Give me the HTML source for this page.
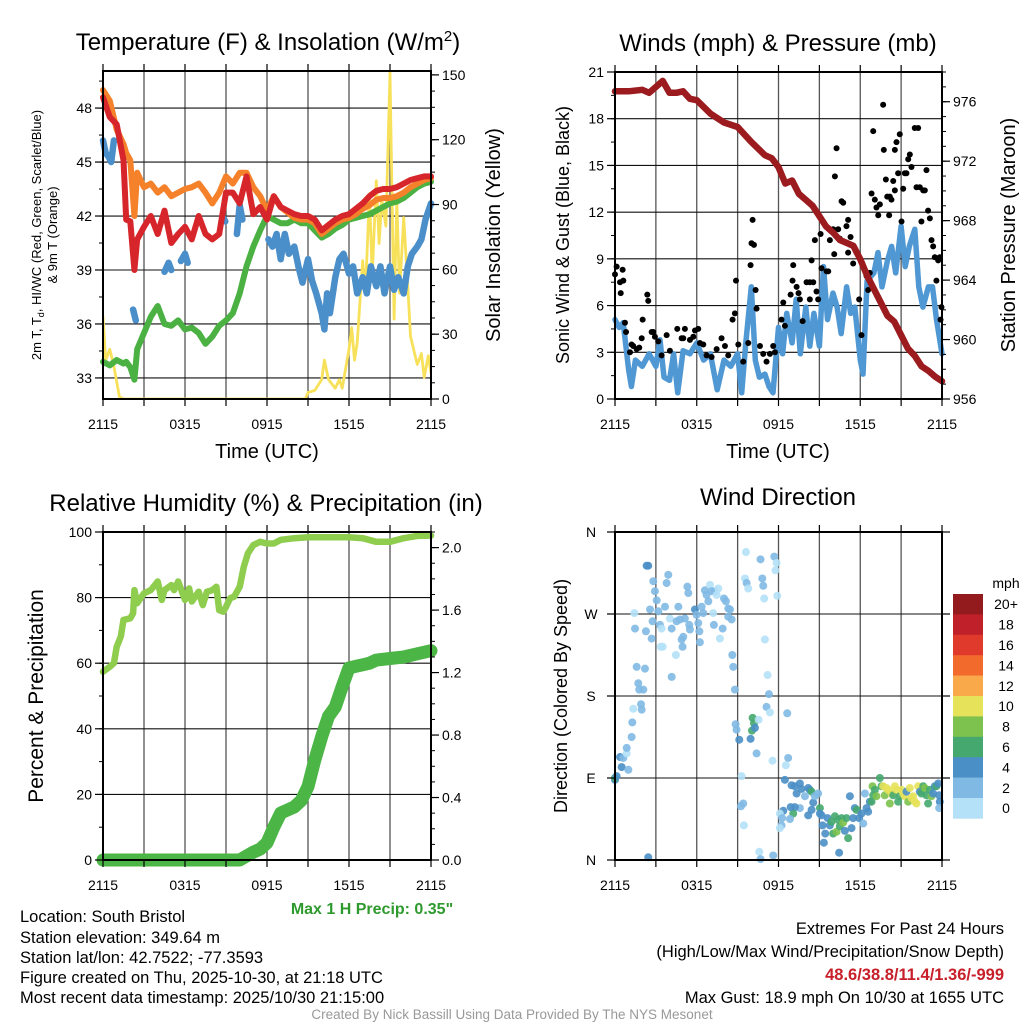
<!DOCTYPE html>
<html><head><meta charset="utf-8"><style>
html,body{margin:0;padding:0;background:#fff;}
svg{display:block;font-family:"Liberation Sans",Arial,sans-serif;}
</style></head><body>
<svg id="fig" width="1024" height="1024" viewBox="0 0 1024 1024" xmlns="http://www.w3.org/2000/svg">
<rect width="1024" height="1024" fill="#fff"/>
<g id="layer"></g>
<g font-size="24" text-anchor="middle" fill="#000">
<text x="268" y="50">Temperature (F) &amp; Insolation (W/m<tspan dy="-9" font-size="15">2</tspan><tspan dy="9">)</tspan></text>
<text x="778" y="51">Winds (mph) &amp; Pressure (mb)</text>
<text x="266" y="511">Relative Humidity (%) &amp; Precipitation (in)</text>
<text x="778" y="505">Wind Direction</text>
</g>
<g font-size="20" text-anchor="middle" fill="#000">
<text x="267" y="458">Time (UTC)</text>
<text x="778" y="458">Time (UTC)</text>
<text transform="translate(500,235) rotate(-90)">Solar Insolation (Yellow)</text>
<text transform="translate(1015,235) rotate(-90)">Station Pressure (Maroon)</text>
<text transform="translate(43,696) rotate(-90)" font-size="21">Percent &amp; Precipitation</text>
<text transform="translate(569,235) rotate(-90)" font-size="18">Sonic Wind &amp; Gust (Blue, Black)</text>
<text transform="translate(567,696) rotate(-90)" font-size="18">Direction (Colored By Speed)</text>
</g>
<g font-size="13" text-anchor="middle" fill="#000">
<text transform="translate(41,235) rotate(-90)">2m T, T<tspan font-size="9" dy="3">d</tspan><tspan dy="-3">, HI/WC (Red, Green, Scarlet/Blue)</tspan></text>
<text transform="translate(57,235) rotate(-90)">&amp; 9m T (Orange)</text>
</g>
<text x="372" y="914" font-size="16" font-weight="bold" fill="#2e9a2e" text-anchor="middle">Max 1 H Precip: 0.35"</text>
<g font-size="16.5" fill="#000">
<text x="20" y="922">Location: South Bristol</text>
<text x="20" y="943">Station elevation: 349.64 m</text>
<text x="20" y="963">Station lat/lon: 42.7522; -77.3593</text>
<text x="20" y="983">Figure created on Thu, 2025-10-30, at 21:18 UTC</text>
<text x="20" y="1003">Most recent data timestamp: 2025/10/30 21:15:00</text>
</g>
<g font-size="16.5" fill="#000" text-anchor="end">
<text x="1004" y="934">Extremes For Past 24 Hours</text>
<text x="1004" y="957">(High/Low/Max Wind/Precipitation/Snow Depth)</text>
<text x="1004" y="980" font-weight="bold" fill="#c8202a">48.6/38.8/11.4/1.36/-999</text>
<text x="1004" y="1003">Max Gust: 18.9 mph On 10/30 at 1655 UTC</text>
</g>
<text x="512" y="1019" font-size="13.5" fill="#999" text-anchor="middle">Created By Nick Bassill Using Data Provided By The NYS Mesonet</text>
</svg>
<script>
// ---------- DATA ----------
const xTickLabels = ["2115","0315","0915","1515","2115"];
const tempTicks = [33,36,39,42,45,48];
const solarTicks = [0,30,60,90,120,150];
const windTicks = [0,3,6,9,12,15,18,21];
const presTicks = [956,960,964,968,972,976];
const rhTicks = [0,20,40,60,80,100];
const pcpTicks = ["0.0","0.4","0.8","1.2","1.6","2.0"];
const dirLabels = ["N","E","S","W","N"];
const cbarLabels = ["20+","18","16","14","12","10","8","6","4","2","0"];
const cbarColors = ["#931a1d","#c0202a","#e03a2c","#f26a2c","#f9a84a","#e6e25a","#7dc24e","#45a86e","#4a8fc6","#7fb9e4","#b4e1f7"];

const tTemp = [0,0.5,1,1.5,1.7,2,2.3,2.5,3,3.5,4,4.5,5,5.5,6,6.5,7,7.5,8,8.5,9,9.5,10,10.5,11,11.5,12,12.5,13,13.5,14,14.5,15,15.5,16,16.5,17,17.5,18,18.5,19,19.5,20,20.5,21,21.5,22,22.5,23,23.5,24];
const temp2m = [48.6,47.5,47.1,45.1,41.8,41.7,39.0,40.7,41.4,42.0,41.0,42.3,40.5,41.0,41.4,40.7,42.0,41.0,40.7,41.0,43.3,43.3,42.7,44.2,42.1,42.5,41.8,43.1,42.5,42.3,42.1,42.0,42.0,41.8,41.2,41.5,41.8,42.0,42.1,42.4,42.7,43.1,43.4,43.5,43.5,43.6,43.8,44.0,44.1,44.2,44.2];
const temp9m = [49.0,48.4,46.8,46.0,45.5,45.1,42.0,44.4,43.6,43.8,43.3,43.6,43.1,43.3,43.5,43.6,43.8,43.3,42.7,43.3,44.2,43.8,44.4,44.4,43.6,43.1,42.3,43.1,42.5,42.2,41.9,41.8,41.8,41.6,41.0,41.3,41.6,41.8,41.9,42.1,42.4,42.6,42.9,43.0,43.0,43.1,43.3,43.6,43.8,44.0,44.1];
const dewpoint = [33.9,33.7,34.0,33.8,33.9,33.6,32.9,34.6,35.5,36.4,37.0,36.0,35.9,36.2,35.7,35.8,35.5,34.9,35.3,35.9,36.2,36.6,37.7,39.2,40.3,41.2,42.0,41.8,41.6,41.6,41.8,41.6,41.6,41.2,40.8,41.0,41.3,41.5,41.8,41.9,42.0,42.1,42.3,42.5,42.7,42.8,43.0,43.3,43.6,43.8,43.9];
const tChill = [0,0.2,0.4,0.6,0.8,0.9, 2.2,2.4,2.5, 4.5,4.8,5.0,5.1, 5.7,6.0,6.2,6.3, 8.8,8.95,9.0, 9.8,10.0,10.2,10.3, 12.1,12.4,12.7,13.0,13.3,13.6,14.0,14.3,14.6,15.0,15.3,15.6,16.0,16.2,16.4,16.6,17.0,17.3,17.6,18.0,18.3,18.6,19.0,19.3,19.6,20.0,20.3,20.6,21.0,21.3,21.6,22.0,22.3,22.6,23.0,23.3,23.6,24.0];
const windChill = [46.2,45.5,45.3,45.0,46.2,null, 36.8,36.2,null, 38.9,39.4,39.0,null, 39.5,39.9,39.4,null, 41.9,41.7,null, 41.0,42.6,41.8,null, 40.7,40.3,41.0,39.6,41.0,39.9,40.3,39.2,38.3,39.6,38.4,37.7,36.6,35.7,37.7,36.6,38.6,39.6,39.9,38.8,39.2,37.7,38.6,37.7,39.2,38.1,39.2,37.7,39.2,37.9,38.6,37.7,39.2,39.9,40.3,40.7,41.8,42.7];
const tSolar = [0,0.2,0.5,0.8,1.2,1.5,14.8,15,15.5,16,16.2,16.5,17,17.3,17.5,18,18.2,18.4,18.6,19,19.2,19.5,19.7,20,20.2,20.4,20.7,21,21.1,21.3,21.5,21.7,22,22.3,22.5,22.8,23,23.3,23.5,23.8,24];
const solar = [38,18,23,15,1,0,0,3,4,9,18,9,5,9,5,23,33,18,26,64,49,95,57,101,72,92,80,151,111,37,92,49,84,52,29,21,16,21,10,20,12];

const tWind = [0,0.3,0.6,1,1.2,1.5,2,2.5,3,3.3,3.6,4,4.3,4.6,5,5.5,6,6.5,7,7.5,8,8.5,9,9.3,9.6,10,10.3,10.6,11,11.3,11.6,12,12.3,12.6,13,13.3,13.6,14,14.3,14.6,15,15.3,15.6,16,16.3,16.6,17,17.3,17.6,18,18.2,18.5,19,19.3,19.6,20,20.3,20.6,21,21.3,21.6,22,22.3,22.6,23,23.3,23.6,24];
const windSpeed = [5.1,4.6,4.9,1.9,0.8,2.5,2.1,2.9,2.1,3.8,1.4,1.2,2.9,0.4,3.1,2.9,3.6,2.5,2.9,0.6,2.5,2.1,2.9,0.4,3.6,7.2,2.5,1.4,1.6,0.8,0.4,4.6,2.9,5.5,3.6,6.4,2.9,5.9,3.4,5.5,3.4,8.5,5.1,6.8,5.9,4.2,7.2,5.5,5.9,2.5,1.6,7.6,8.1,9.4,7.2,8.9,9.8,8.1,11.1,8.5,9.8,10.9,7.2,5.9,7.2,7.2,5.1,2.9];
const gustT = [0,0.12,0.56,0.37,0.61,0.42,0.73,0.81,1.22,1.10,1.34,1.59,1.78,2.03,1.96,2.37,2.44,2.69,2.81,2.93,3.18,3.42,3.79,4.03,4.57,4.89,5.13,5.01,5.50,5.75,5.87,6.11,6.23,6.48,6.72,7.09,7.46,7.82,8.07,8.31,8.63,8.80,8.88,9.05,9.41,9.78,9.95,10.02,10.20,10.10,10.32,10.39,10.64,10.88,11.12,11.37,11.61,11.74,12.22,12.35,12.47,12.89,13.03,13.08,13.33,13.47,13.57,13.77,14.06,14.30,14.55,14.30,14.43,14.67,14.79,14.91,15.09,15.16,15.33,15.53,15.65,15.77,16.01,16.09,16.14,16.26,16.38,16.50,16.63,16.75,16.99,17.11,17.11,17.29,17.48,17.73,17.92,18.09,18.46,18.58,18.70,18.83,18.95,19.07,19.19,19.32,19.44,19.68,19.73,19.88,19.98,20.12,20.17,20.29,20.42,20.54,20.54,20.66,20.78,20.90,21.03,21.15,21.27,21.39,21.52,21.64,21.76,22.00,22.25,22.13,22.37,22.49,22.62,22.74,22.86,22.98,23.11,23.23,23.35,23.47,23.59,23.72,23.84,23.96,23.89];
const gustV = [8.0,8.5,8.3,7.5,7.6,6.8,4.9,4.3,3.5,3.0,3.4,3.2,3.3,5.1,3.9,6.7,6.3,4.3,4.3,4.0,3.7,2.8,4.1,3.1,4.5,3.9,4.5,3.9,3.8,4.0,4.4,4.5,3.6,3.5,2.8,2.7,3.2,3.9,3.4,2.8,5.1,5.5,7.6,3.5,2.4,3.6,8.6,10.0,9.9,11.5,7.0,5.8,3.4,2.9,2.4,2.9,3.4,3.0,5.1,6.2,4.7,6.7,7.6,8.6,7.2,6.8,6.4,5.0,7.5,7.5,7.5,6.4,8.9,10.2,6.9,6.4,10.6,8.4,11.3,8.2,8.2,10.2,10.9,9.3,14.3,16.1,10.9,10.3,12.7,12.6,11.1,11.5,9.4,10.4,8.7,9.4,6.4,4.1,7.9,7.0,8.1,13.2,17.2,12.8,12.3,11.8,12.5,18.9,16.0,14.1,13.0,11.8,13.0,12.8,14.0,13.4,16.0,16.5,14.5,17.0,11.4,13.5,14.5,14.5,15.4,15.7,14.9,17.4,17.4,13.6,13.6,11.4,13.4,13.4,14.7,12.1,11.6,10.2,9.8,9.1,7.6,8.9,9.1,5.9,5.1];
const tPres = [0,1,2,2.5,3,3.5,4,4.5,5,5.5,6,7,8,9,10,11,11.5,12,12.5,13,13.5,14,14.5,15,15.5,16,16.5,17,17.5,18,18.5,19,19.5,20,20.5,21,21.5,22,22.5,23,23.5,24];
const pressure = [976.7,976.7,976.8,976.6,977.0,977.4,976.6,976.6,976.7,976.2,976.1,975.2,974.6,974.3,973.3,972.4,972.2,971.6,970.5,970.7,969.8,969.4,969.0,968.3,967.6,967.2,966.7,966.5,966.3,965.4,964.3,963.4,962.5,961.6,961.2,960.3,959.4,958.9,958.2,957.9,957.5,957.2];

const tRH = [0,0.5,0.8,1,1.3,1.5,2,2.2,2.3,2.5,3,3.5,4,4.3,4.5,5,5.2,5.5,6,6.3,6.5,7,7.3,7.6,8,8.3,8.5,8.8,9,9.3,9.6,10,10.3,10.6,11,11.5,12,12.5,13,14,15,16,17,18,19,20,21,22,23,24];
const rh = [57.4,58.9,60,65,68.1,73.2,73.7,75.2,82.3,78.3,81.3,82.3,84.9,79.3,82.3,83.8,82.3,84.9,79.3,82.8,78.8,81.8,77.7,81.8,82.3,83.3,76.2,75.7,77.2,79.8,80.3,83.3,89.4,93.5,96,97,96.5,96.5,97.6,98.1,98.4,98.4,98.4,98.4,98.1,97,97,98.1,98.8,98.9];
const tPcp = [0,10,10.4,11,11.5,12,12.5,13,13.5,14,14.5,15,15.5,16,16.5,17,17.5,18,18.5,19,19.5,20,21,22,23,24];
const precip = [0,0,0.02,0.05,0.07,0.11,0.21,0.30,0.32,0.34,0.38,0.47,0.64,0.79,0.92,0.98,1.11,1.23,1.24,1.25,1.26,1.28,1.29,1.30,1.32,1.34];

const dirT = [0,0,0.12,0.49,0.37,0.61,0.86,0.98,0.86,1.22,1.27,1.34,1.96,1.91,2.08,1.78,1.71,1.59,2.2,1.47,1.42,2.27,2.57,2.69,2.76,2.93,2.81,3.06,3.18,3.3,3.42,3.35,3.5,3.67,3.79,3.91,4.03,4.16,4.16,4.47,4.52,4.65,4.77,4.89,5.01,4.96,5.13,5.31,5.38,5.45,5.5,5.87,5.99,6.11,6.19,6.23,6.36,6.48,6.6,6.72,6.85,6.97,7.09,7.21,7.33,7.46,7.58,7.26,7.7,7.9,8.0,8.14,8.31,8.44,8.31,8.56,8.61,8.68,8.8,8.85,8.92,9.12,9.29,9.24,9.41,9.46,9.61,9.54,9.66,9.78,9.95,10.1,10.2,10.05,10.27,10.39,10.54,10.59,10.68,10.68,10.81,10.88,10.95,11.0,11.2,11.3,11.12,11.37,11.56,11.61,11.69,11.86,11.78,11.91,12.47,12.64,12.71,12.54,12.96,13.2,13.33,13.57,13.69,13.94,14.18,14.3,14.43,14.55,14.67,14.91,15.04,15.16,15.04,14.43,14.18,13.57,13.2,13.08,12.89,12.35,12.1,12.27,12.22,12.1,12.84,15.23,15.43,15.33,15.6,15.77,15.89,16.01,16.14,16.26,16.38,16.5,16.63,16.75,16.87,16.99,17.11,17.24,17.36,17.48,17.6,17.73,17.92,18.09,18.22,18.34,18.46,18.58,18.7,16.45,18.83,18.9,18.95,19.07,19.19,19.44,19.56,19.68,19.8,19.93,20.05,20.17,20.29,20.42,20.54,20.66,20.78,20.9,21.03,21.15,21.27,21.39,21.52,21.64,21.76,21.88,22.0,22.13,22.25,22.37,22.49,22.62,22.74,22.86,22.98,23.11,23.23,23.35,23.47,23.59,23.72,23.79,23.84,23.79,2.44,2.32,2.44];
const dirDeg = [88,90,92,102,113,112,117,99,123,135,151,166,165,171,187,187,194,212,210,254,271,251,275,243,262,295,306,285,273,258,254,234,234,278,304,313,265,254,201,225,262,278,264,242,245,234,265,300,293,258,253,275,269,260,251,239,278,271,296,291,284,302,295,271,295,291,298,258,243,254,287,284,276,275,267,264,225,212,187,149,143,132,92,59,62,38,338,309,304,298,133,156,150,142,145,117,154,9,1,330,309,301,287,242,203,182,168,162,109,5,333,326,318,290,88,161,112,104,82,81,73,84,78,70,79,77,75,63,70,73,57,49,51,55,49,57,58,51,58,54,51,46,38,35,45,38,29,19,46,38,42,29,48,31,44,37,46,41,32,46,24,70,35,46,57,55,46,51,40,73,57,53,64,8,64,81,71,77,70,90,81,81,71,79,77,62,73,71,81,77,64,70,77,73,70,75,64,79,68,70,64,62,81,75,73,81,79,71,62,77,70,73,81,81,84,71,64,57,323,323,3];
const dirSpd = [5,7,5,5,5,3,1,3,3,3,3,1,3,3,3,3,3,3,3,3,1,3,3,3,3,3,3,3,3,3,1,1,1,3,3,3,1,3,3,1,3,3,3,3,3,3,3,3,3,3,3,5,3,3,3,3,3,3,3,3,3,1,3,1,3,1,1,3,1,3,3,3,3,3,3,3,3,3,3,3,3,5,1,3,3,1,1,1,3,1,5,7,7,7,5,3,1,1,3,3,3,3,1,1,1,3,3,1,1,3,3,1,1,1,5,3,3,1,5,5,5,5,5,3,5,5,7,5,3,3,7,5,5,5,5,3,5,7,5,5,1,3,3,1,3,5,5,5,5,5,7,7,7,9,7,7,7,9,5,7,7,5,5,5,5,7,5,5,3,3,5,5,5,5,7,9,7,7,9,7,7,11,9,11,11,9,11,7,11,11,7,7,11,11,11,5,9,11,11,11,11,11,11,5,7,7,9,7,7,7,9,5,5,7,5,5,5,3,5,5,5];

// ---------- DRAWING ----------
const NS = "http://www.w3.org/2000/svg";
const layer = document.getElementById('layer');
function el(tag, attrs, parent){
  const e = document.createElementNS(NS, tag);
  for (const k in attrs) e.setAttribute(k, attrs[k]);
  (parent||layer).appendChild(e);
  return e;
}
const P1 = {x0:103,x1:431,y0:71,y1:399};
const P2 = {x0:615,x1:942,y0:72,y1:399};
const P3 = {x0:103,x1:431,y0:532,y1:860};
const P4 = {x0:615,x1:942,y0:532,y1:860};
function xs(P,t){ return P.x0 + t/24*(P.x1-P.x0); }
function ys(P,v,lo,hi){ return P.y1 - (v-lo)/(hi-lo)*(P.y1-P.y0); }

const T_LO=31.83,T_HI=50.06, S_LO=0,S_HI=151.8, W_LO=0,W_HI=21, PR_LO=956,PR_HI=978.0, RH_LO=0,RH_HI=100, PC_LO=0,PC_HI=2.1;

function frameAndGrid(P, name, hVals, lo, hi){
  const g = el('g',{});
  
  
  for (let h=3; h<24; h+=3){
    const x = xs(P,h);
    el('line',{x1:x,x2:x,y1:P.y0,y2:P.y1,stroke:'#555','stroke-width':1.3},g);
  }
  hVals.forEach(v=>{
    const y = ys(P,v,lo,hi);
    if (y>P.y0+1 && y<P.y1-1) el('line',{x1:P.x0,x2:P.x1,y1:y,y2:y,stroke:'#111','stroke-width':1.1},g);
  });
}
function frame(P,name){
  const r = el('rect',{x:P.x0,y:P.y0,width:P.x1-P.x0,height:P.y1-P.y0,fill:'none',stroke:'#000','stroke-width':2});
  
  
}
function xAxis(P,name){
  const g = el('g',{'font-size':14,'text-anchor':'middle'});
  
  
  for (let h=0; h<=24; h+=3){
    const x = xs(P,h);
    el('line',{x1:x,x2:x,y1:P.y1,y2:P.y1+7,stroke:'#000','stroke-width':1.2},g);
    el('line',{x1:x,x2:x,y1:P.y0,y2:P.y0-7,stroke:'#000','stroke-width':1.2},g);
  }
  xTickLabels.forEach((lab,i)=>{
    const t = el('text',{x:xs(P,i*6),y:P.y1+30},g);
    t.textContent = lab;
  });
}
function yAxis(P,name,side,labels,vals,lo,hi,minorStep){
  const g = el('g',{'font-size':14,'text-anchor':side==='left'?'end':'start'});
  
  
  const x = side==='left'?P.x0:P.x1, d = side==='left'?-1:1;
  for (let v=Math.ceil(lo/minorStep)*minorStep; v<=hi+1e-9; v+=minorStep){
    const y = ys(P,v,lo,hi);
    el('line',{x1:x,x2:x+d*4,y1:y,y2:y,stroke:'#000','stroke-width':1},g);
  }
  vals.forEach((v,i)=>{
    const y = ys(P,v,lo,hi);
    el('line',{x1:x,x2:x+d*8,y1:y,y2:y,stroke:'#000','stroke-width':1.2},g);
    const t = el('text',{x:x+d*11,y:y+5},g);
    t.textContent = labels[i];
  });
}
function line(P,name,ts,vs,lo,hi,color,w,extra){
  let d='', pen=false;
  ts.forEach((t,i)=>{
    const v = vs[i];
    if (v===null){ pen=false; return; }
    d += (pen?'L':'M') + xs(P,t).toFixed(1)+','+ys(P,v,lo,hi).toFixed(1);
    pen=true;
  });
  const p = el('path',Object.assign({d:d,fill:'none',stroke:color,'stroke-width':w,'stroke-linejoin':'round','stroke-linecap':'round'},extra||{}));
  
  
  return p;
}

// Panel 1
frameAndGrid(P1,'temp',tempTicks,T_LO,T_HI);
const clip1 = el('clipPath',{id:'c1'}); el('rect',{x:P1.x0,y:P1.y0-2,width:P1.x1-P1.x0,height:P1.y1-P1.y0+2},clip1);
line(P1,'solar-insolation-line',tSolar,solar,S_LO,S_HI,'#f8e15a',2.8,{'clip-path':'url(#c1)'});
line(P1,'dewpoint-line',tTemp,dewpoint,T_LO,T_HI,'#4bb143',6);
line(P1,'wind-chill-line',tChill,windChill,T_LO,T_HI,'#4a8fca',6.5);
line(P1,'temp-9m-line',tTemp,temp9m,T_LO,T_HI,'#f5822a',6);
line(P1,'temp-2m-line',tTemp,temp2m,T_LO,T_HI,'#d7262b',6);
frame(P1,'temp');
xAxis(P1,'temp');
yAxis(P1,'temp','left',tempTicks.map(String),tempTicks,T_LO,T_HI,1.5);
yAxis(P1,'temp','right',solarTicks.map(String),solarTicks,S_LO,S_HI,7.5);

// Panel 2
frameAndGrid(P2,'wind',windTicks,W_LO,W_HI);
line(P2,'sonic-wind-line',tWind,windSpeed,W_LO,W_HI,'#4f98d4',5.5);
const gg = el('g',{});


gustT.forEach((t,i)=>{
  const c = el('circle',{cx:xs(P2,t),cy:ys(P2,gustV[i],W_LO,W_HI),r:3,fill:'#000'},gg);
  
  
});
line(P2,'pressure-line',tPres,pressure,PR_LO,PR_HI,'#9b1b1e',6.5);
frame(P2,'wind');
xAxis(P2,'wind');
yAxis(P2,'wind','left',windTicks.map(String),windTicks,W_LO,W_HI,1.5);
yAxis(P2,'wind','right',presTicks.map(String),presTicks,PR_LO,PR_HI,1);

// Panel 3
frameAndGrid(P3,'rh',rhTicks,RH_LO,RH_HI);
line(P3,'relative-humidity-line',tRH,rh,RH_LO,RH_HI,'#8fcd4f',6.5);
line(P3,'precipitation-line',tPcp,precip,PC_LO,PC_HI,'#4bb545',13);
frame(P3,'rh');
xAxis(P3,'rh');
yAxis(P3,'rh','left',rhTicks.map(String),rhTicks,RH_LO,RH_HI,10);
yAxis(P3,'rh','right',pcpTicks,pcpTicks.map(Number),PC_LO,PC_HI,0.1);

// Panel 4
const dirVals = [0,90,180,270,360];
frameAndGrid(P4,'dir',dirVals,0,360);
function spdColor(s){ let i = Math.min(10, Math.floor(s/2)); return cbarColors[10-i]; }
const dg = el('g',{});


dirT.forEach((t,i)=>{
  const c = el('circle',{cx:xs(P4,t),cy:ys(P4,dirDeg[i],0,360),r:4,fill:spdColor(dirSpd[i]),'fill-opacity':0.9},dg);
  
  
});
frame(P4,'dir');
xAxis(P4,'dir');
(function(){
  const g = el('g',{'font-size':14,'text-anchor':'middle'});
  
  
  dirVals.forEach((v,i)=>{
    const y = ys(P4,v,0,360);
    el('line',{x1:P4.x0,x2:P4.x0-8,y1:y,y2:y,stroke:'#000','stroke-width':1.2},g);
    el('line',{x1:P4.x1,x2:P4.x1+8,y1:y,y2:y,stroke:'#000','stroke-width':1.2},g);
    const t = el('text',{x:591,y:y+5},g);
    t.textContent = dirLabels[i];
  });
})();
// Colorbar
(function(){
  const g = el('g',{'font-size':14,'text-anchor':'middle'});
  
  
  const t0 = el('text',{x:1006,y:588},g); t0.textContent='mph';
  const h = 20.4;
  cbarColors.forEach((c,i)=>{
    const r = el('rect',{x:953,y:594+i*h,width:30,height:h+0.3,fill:c},g);
    
    
    const t = el('text',{x:1006,y:594+i*h+h/2+5},g);
    t.textContent = cbarLabels[i];
  });
})();
</script>
</body></html>
